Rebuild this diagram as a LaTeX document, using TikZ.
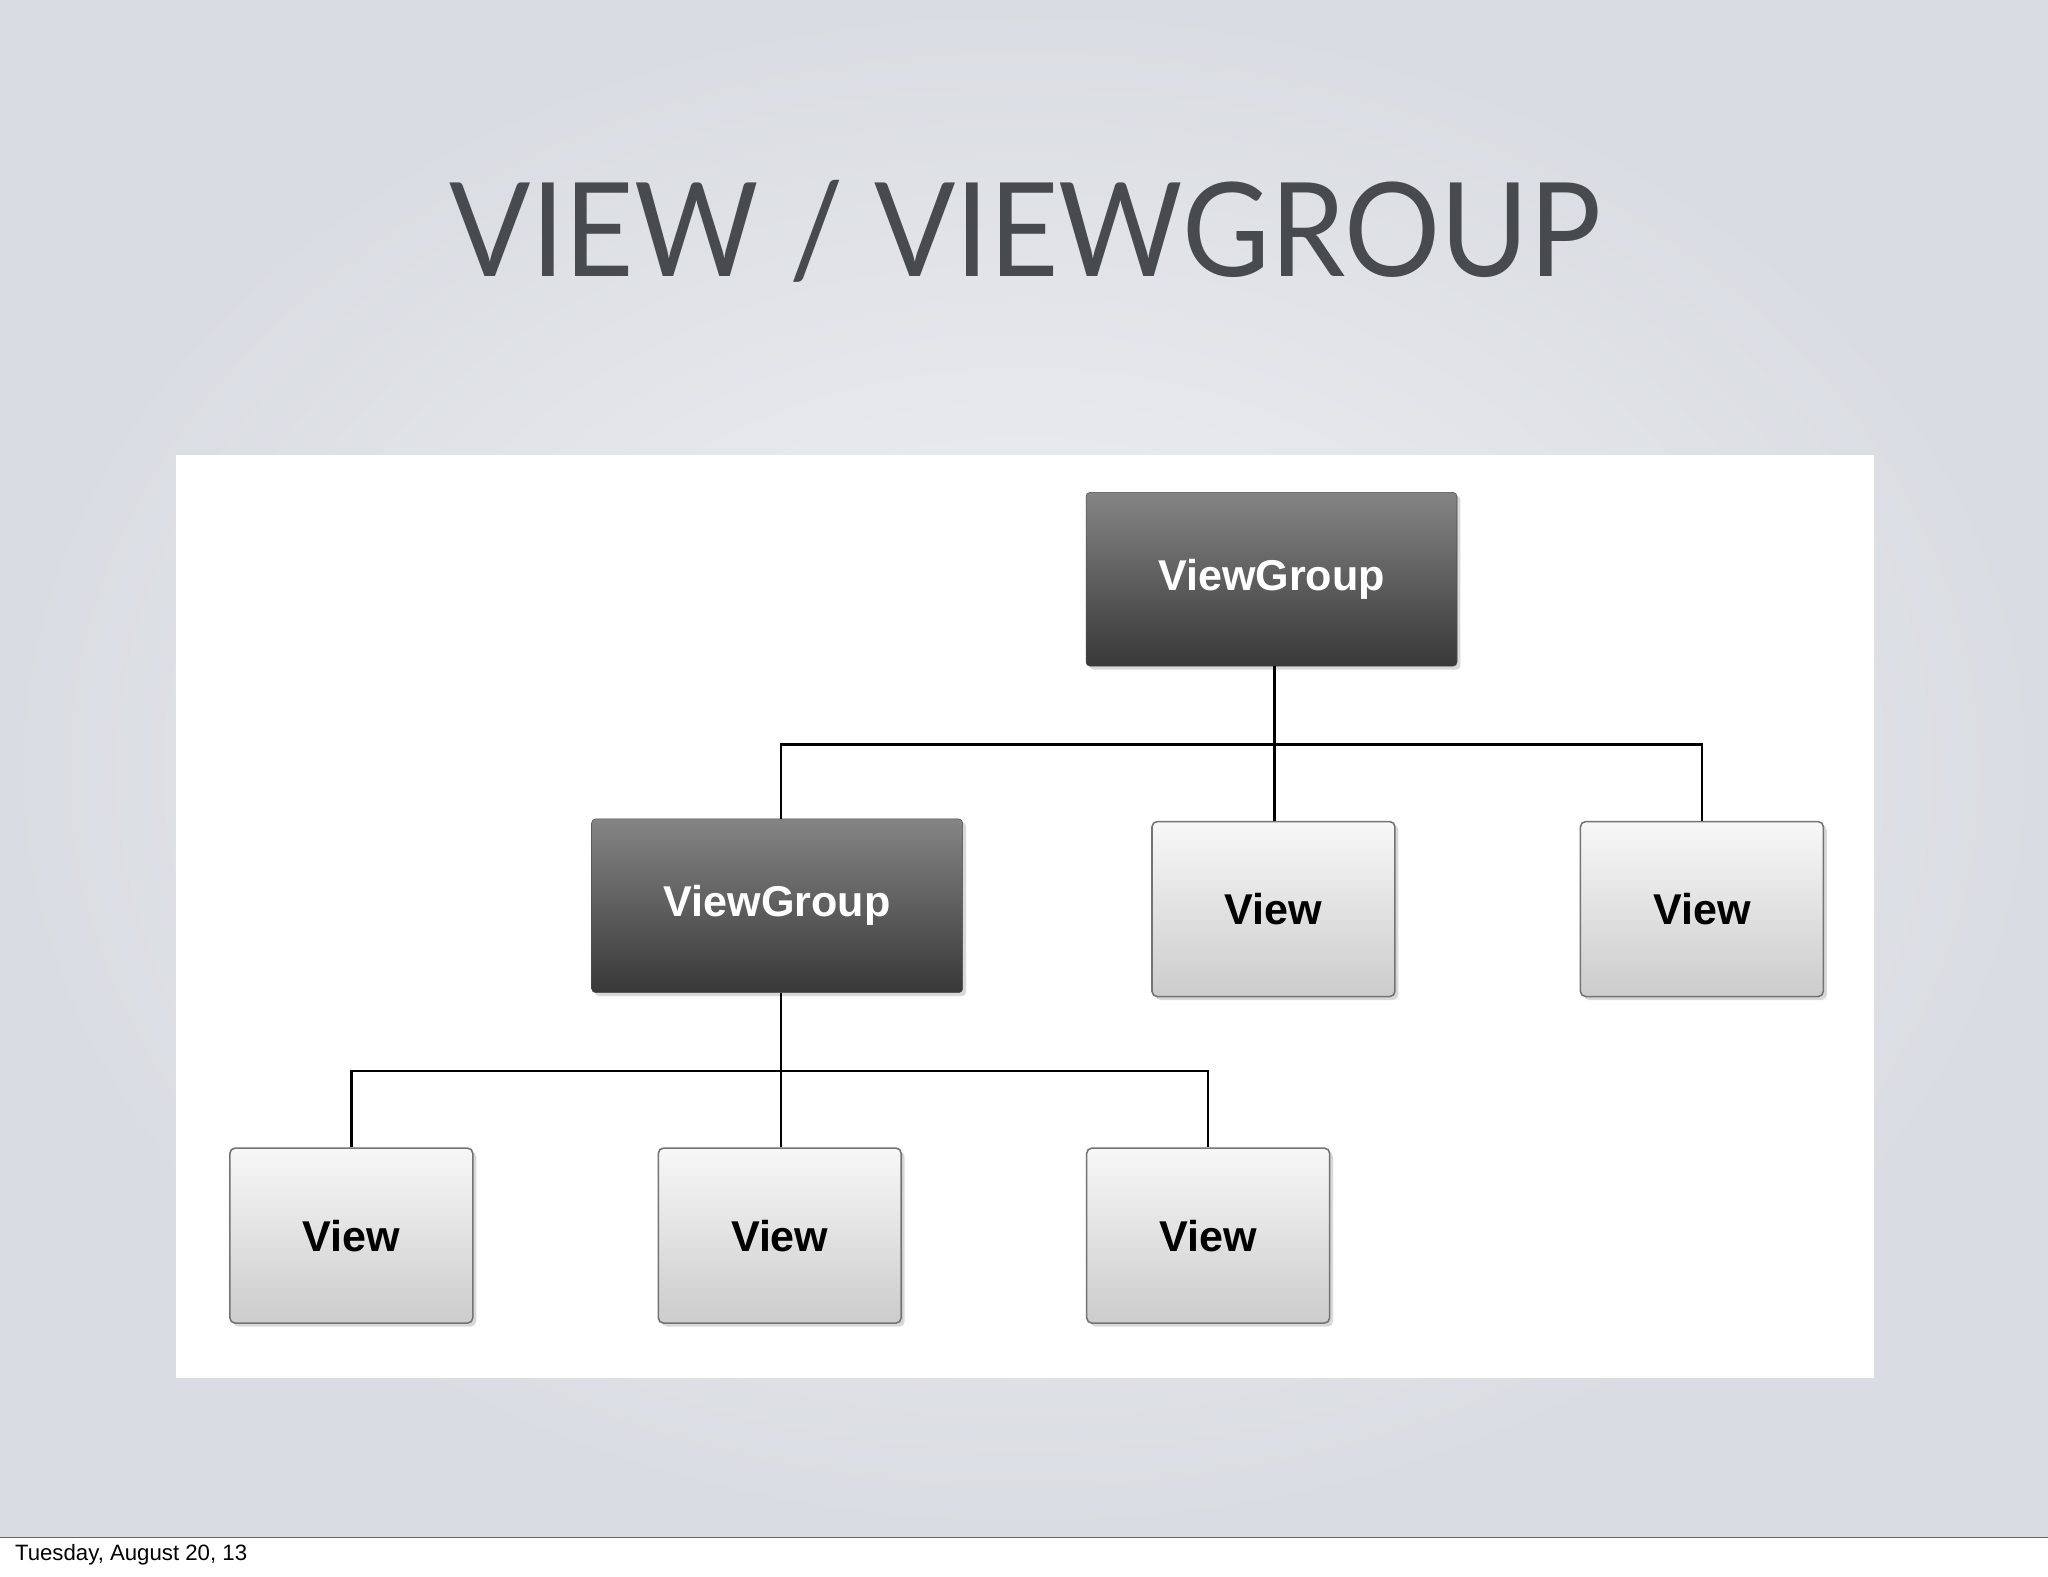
\documentclass[tikz,border=0pt]{standalone}
\usepackage{fontspec}
\usetikzlibrary{shadows}
\setmainfont{Liberation Sans}
\newfontfamily\titlefont{Lato}
\definecolor{bgin}{HTML}{F1F2F4}
\definecolor{bgout}{HTML}{D9DCE2}
\definecolor{ttl}{HTML}{474A4E}
\begin{document}
\begin{tikzpicture}[x=1pt,y=-1pt,
  vg/.style={draw=black!70,rounded corners=3pt,top color=black!48,bottom color=black!78,
    minimum width=284pt,minimum height=133pt,text=white,font=\fontsize{33}{36}\selectfont\bfseries,
    drop shadow={opacity=0.3}},
  vw/.style={draw=black!55,line width=1.2pt,rounded corners=4pt,top color=black!3,bottom color=black!20,
    minimum width=186pt,minimum height=134pt,text=black,font=\fontsize{33}{36}\selectfont\bfseries,
    drop shadow={opacity=0.3}},
  conn/.style={draw=black,line width=2pt}]
\useasboundingbox (0,0) rectangle (1568,1207);
\fill[white] (0,0) rectangle (1568,1207);
\shade[inner color=bgin, outer color=bgout] (0,0) rectangle (1568,1177);
\draw[black!60,line width=1pt] (0,1177) -- (1568,1177);
\node[anchor=west,font=\fontsize{17}{20}\selectfont] (foot) at (8,1190) {Tuesday, August 20, 13};
\node[font=\titlefont\fontsize{100}{110}\selectfont,text=ttl,xscale=0.92] (title) at (785,177) {VIEW / VIEWGROUP};
\fill[white] (135,348) rectangle (1435,1055);
\node[vg] (vg1) at (973.5,443.5) {ViewGroup};
\node[vg] (vg2) at (595,693.5) {ViewGroup};
\node[vw] (v1) at (975,696) {View};
\node[vw] (v2) at (1303,696) {View};
\node[vw] (v3) at (269,946) {View};
\node[vw] (v4) at (597,946) {View};
\node[vw] (v5) at (925,946) {View};
\coordinate (j1) at (976,570);
\coordinate (j2) at (598,820);
\draw[conn] (vg1.south -| j1) -- (j1);
\draw[conn] (j1) -| (vg2.north -| j2);
\draw[conn] (j1) -- (v1.north -| j1);
\draw[conn] (j1) -| (v2.north);
\draw[conn] (vg2.south -| j2) -- (j2);
\draw[conn] (j2) -| (v3.north);
\draw[conn] (j2) -- (v4.north -| j2);
\draw[conn] (j2) -| (v5.north);
\end{tikzpicture}
\end{document}
